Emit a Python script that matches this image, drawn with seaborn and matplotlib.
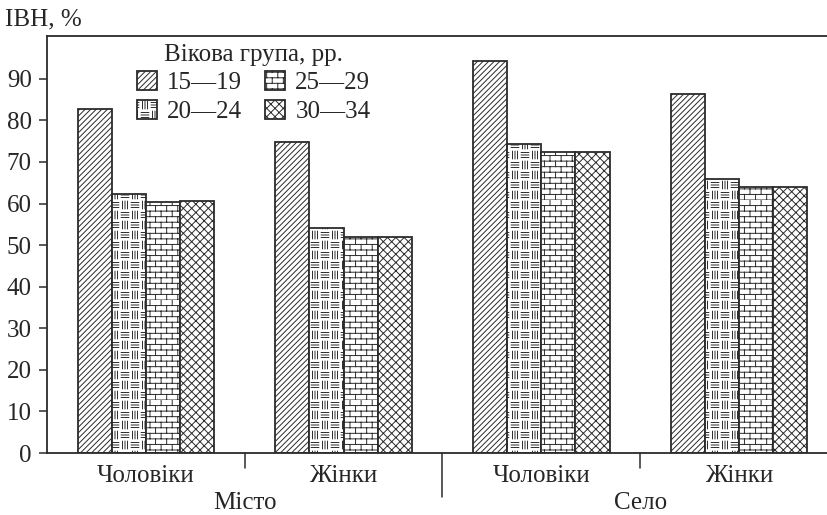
import warnings

import numpy as np
import pandas as pd
import matplotlib
matplotlib.use("Agg")
import matplotlib.pyplot as plt
import matplotlib.hatch as mhatch
from matplotlib.path import Path
from matplotlib.transforms import blended_transform_factory
import seaborn as sns

warnings.filterwarnings("ignore")

# data
places = ["Місто", "Місто", "Село", "Село"]
sexes = ["Чоловіки", "Жінки", "Чоловіки", "Жінки"]
age_groups = ["15—19", "20—24", "25—29", "30—34"]
ivn_15_19 = [82.7, 74.7, 94.3, 86.4]
ivn_20_24 = [62.4, 54.0, 74.4, 65.9]
ivn_25_29 = [60.3, 52.0, 72.5, 63.9]
ivn_30_34 = [60.6, 52.0, 72.4, 63.9]
place_labels = ["Місто", "Село"]


# custom hatches: brick wall ('b') and basket weave ('w')
class BrickHatch(mhatch.HatchPatternBase):
    def __init__(self, hatch, density):
        self.on = 'b' in hatch
        self.rows, self.cols = 18, 9
        self.num_vertices = (self.rows + self.rows * self.cols) * 2 if self.on else 0

    def set_vertices_and_codes(self, vertices, codes):
        segs = []
        for k in range(self.rows):
            y0 = k / self.rows
            segs.append(((0, y0), (1, y0)))
            for j in range(self.cols):
                x = (j + 0.5 * (k % 2)) / self.cols
                segs.append(((x, y0), (x, y0 + 1 / self.rows)))
        for i, (a, b) in enumerate(segs):
            vertices[2 * i] = a
            vertices[2 * i + 1] = b
            codes[2 * i] = Path.MOVETO
            codes[2 * i + 1] = Path.LINETO


class WeaveHatch(mhatch.HatchPatternBase):
    def __init__(self, hatch, density):
        self.on = 'w' in hatch
        self.n = 10
        self.num_vertices = self.n * self.n * 3 * 2 if self.on else 0

    def set_vertices_and_codes(self, vertices, codes):
        c = 1 / self.n
        segs = []
        for i in range(self.n):
            for j in range(self.n):
                x0, y0 = i * c, j * c
                for t in (0.25, 0.5, 0.75):
                    if (i + j) % 2 == 0:
                        segs.append(((x0 + 0.12 * c, y0 + t * c), (x0 + 0.88 * c, y0 + t * c)))
                    else:
                        segs.append(((x0 + t * c, y0 + 0.12 * c), (x0 + t * c, y0 + 0.88 * c)))
        for i, (a, b) in enumerate(segs):
            vertices[2 * i] = a
            vertices[2 * i + 1] = b
            codes[2 * i] = Path.MOVETO
            codes[2 * i + 1] = Path.LINETO


mhatch._hatch_types.extend([BrickHatch, WeaveHatch])
hatches = ["//////", "w", "b", "xxxx"]

# long-form table for seaborn
keys = [p + " " + s for p, s in zip(places, sexes)]
df = pd.DataFrame({
    "key": keys * 4,
    "group": np.repeat(age_groups, 4),
    "value": ivn_15_19 + ivn_20_24 + ivn_25_29 + ivn_30_34,
})

sns.set_theme(style="ticks")
plt.rcParams["font.family"] = ["Liberation Serif", "DejaVu Serif"]
plt.rcParams["hatch.linewidth"] = 0.7
ink = "#2b2b2b"
fs = 18

fig = plt.figure(figsize=(8.28, 5.15), dpi=100)
ax = fig.add_axes([47 / 828, 1 - 453 / 515, 1 - 47 / 828, (453 - 36) / 515])

sns.barplot(data=df, x="key", y="value", hue="group", order=keys, hue_order=age_groups,
            palette=["white"] * 4, width=0.69, edgecolor=ink, linewidth=1.3,
            legend=False, ax=ax)

for cont, h in zip(ax.containers, hatches):
    for bar in cont:
        bar.set_hatch(h)

ax.set_xlim(-0.5, 3.45)
ax.set_ylim(0, 100.3)
ax.set_yticks(range(0, 100, 10))
ax.set_xticks(range(len(sexes)))
ax.set_xticklabels(sexes, fontsize=fs)
ax.tick_params(axis="x", length=0, pad=9)
ax.tick_params(axis="y", labelsize=fs, length=6, width=1.1, color=ink, pad=5)
ax.set_xlabel("")
ax.set_ylabel("")
ax.spines["right"].set_visible(False)
for s in ["left", "bottom", "top"]:
    ax.spines[s].set_color(ink)
    ax.spines[s].set_linewidth(1.3)

# group separators and place labels under the axis
tr = blended_transform_factory(ax.transData, ax.transAxes)
for x, depth in [(0.5, -0.036), (1.5, -0.106), (2.5, -0.036)]:
    ax.plot([x, x], [0, depth], color=ink, lw=1.1, transform=tr, clip_on=False)
for x, lab in zip([0.5, 2.5], place_labels):
    ax.text(x, -0.121, lab, transform=tr, ha="center", va="center", fontsize=fs)

fig.text(5 / 828, 1 - 19 / 515, "ІВН, %", ha="left", va="center", fontsize=fs)

leg = ax.legend(handles=list(ax.containers), labels=age_groups, ncol=2,
                title="Вікова група, рр.", title_fontsize=fs, fontsize=fs,
                frameon=False, loc="upper left", bbox_to_anchor=(119 / 828, 1 - 26 / 515),
                bbox_transform=fig.transFigure, handlelength=0.8, handleheight=0.8,
                handletextpad=0.4, columnspacing=0.95, labelspacing=0.22, borderpad=0.2)

fig.savefig("out.png", dpi=100)
